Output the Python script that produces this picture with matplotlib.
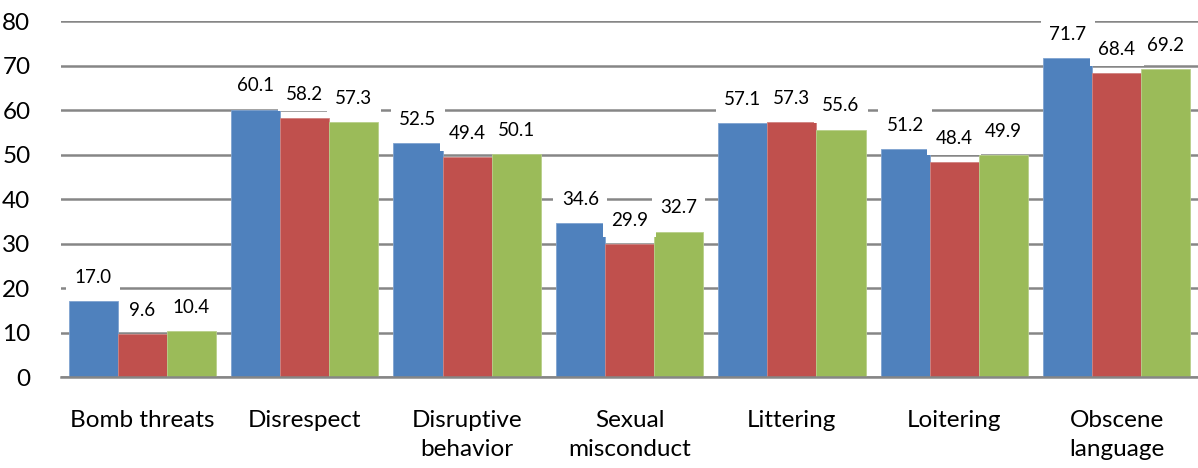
import numpy as np
import matplotlib
matplotlib.use("Agg")
import matplotlib.pyplot as plt

plt.rcParams['font.family'] = ['Lato', 'DejaVu Sans']

kategorier = ["Bomb threats", "Disrespect", "Disruptive\nbehavior", "Sexual\nmisconduct",
              "Littering", "Loitering", "Obscene\nlanguage"]
serie_1 = [17.0, 60.1, 52.5, 34.6, 57.1, 51.2, 71.7]
serie_2 = [9.6, 58.2, 49.4, 29.9, 57.3, 48.4, 68.4]
serie_3 = [10.4, 57.3, 50.1, 32.7, 55.6, 49.9, 69.2]

farver = ["#4F81BD", "#C0504D", "#9BBB59"]
kanter = ["#7FA3D0", "#D08380", "#B8D08A"]

fig = plt.figure(figsize=(11.98, 4.68), dpi=100)
ax = fig.add_axes([0.0509, 0.1944, 0.9491, 0.7607])

x = np.arange(len(kategorier))
bredde = 0.302

for i, serie in enumerate([serie_1, serie_2, serie_3]):
    pos = x + (i - 1) * bredde
    ax.bar(pos, serie, bredde, color=farver[i], edgecolor=kanter[i], linewidth=0.6, zorder=2)
    for px, v in zip(pos, serie):
        ax.annotate("{:.1f}".format(v), (px, v), xytext=(0, 17), textcoords="offset points",
                    ha="center", va="center", fontsize=13.5, color="black", zorder=4,
                    bbox=dict(boxstyle="square,pad=0.45", fc="white", ec="none"))

ax.set_xlim(-0.5, len(kategorier) - 0.5)
ax.set_ylim(0, 80)
ax.set_yticks(range(0, 81, 10))
ax.yaxis.grid(True, color="#868686", linewidth=1.8, zorder=0)
ax.set_axisbelow(True)

for s in ["top", "right", "left"]:
    ax.spines[s].set_visible(False)
ax.spines["bottom"].set_color("#868686")
ax.spines["bottom"].set_linewidth(1.8)

ax.set_xticks(x)
ax.set_xticklabels(kategorier, fontsize=17.5, linespacing=1.45)
ax.tick_params(axis="x", length=0, pad=24)
ax.tick_params(axis="y", length=0, pad=22, labelsize=17.5)

plt.savefig("out.png", dpi=100)
